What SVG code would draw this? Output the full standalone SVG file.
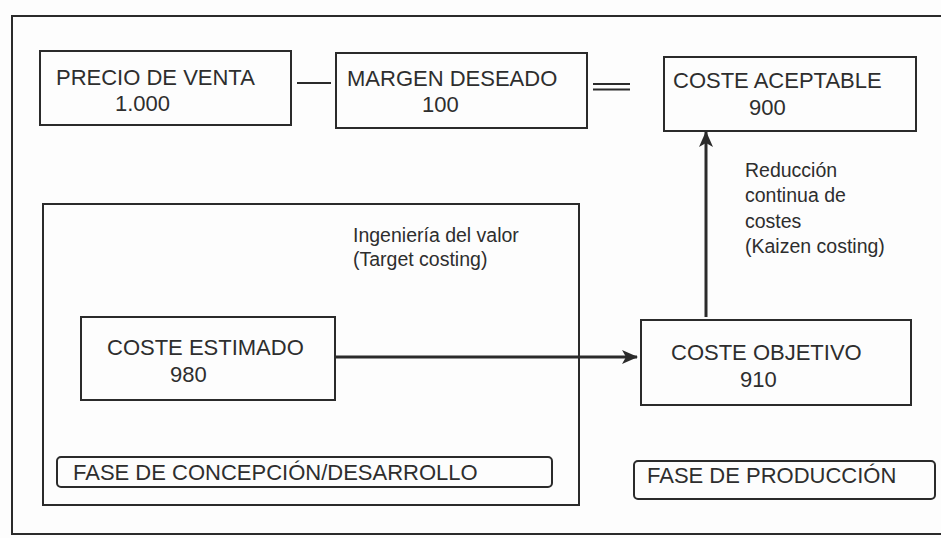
<svg xmlns="http://www.w3.org/2000/svg" width="941" height="538" viewBox="0 0 941 538">
<style>
.box{fill:none;stroke:#2b2b2b;stroke-width:2}
.lbl{font-family:"Liberation Sans",Arial,sans-serif;font-size:22px;fill:#2e2e2e}
.sm{font-family:"Liberation Sans",Arial,sans-serif;font-size:19.5px;fill:#2e2e2e}
.conn{stroke:#2b2b2b;stroke-width:3;fill:none}
.thin{stroke:#2b2b2b;stroke-width:2;fill:none}
</style>
<defs>
<marker id="ah" viewBox="0 0 16 14" refX="15" refY="7" markerWidth="16" markerHeight="14" markerUnits="userSpaceOnUse" orient="auto">
<path d="M0,0 L16,7 L0,14 L4,7 Z" fill="#2b2b2b"/>
</marker>
</defs>
<rect width="941" height="538" fill="#fdfdfd"/>
<g id="frame">
<rect class="box" x="12" y="16" width="940" height="518"/>
</g>
<g id="fase-concepcion-container">
<rect class="box" x="43" y="204" width="536" height="301"/>
<text class="sm" x="353" y="242">Ingeniería del valor</text>
<text class="sm" x="353" y="266">(Target costing)</text>
</g>
<g id="precio-venta">
<rect class="box" x="40" y="51" width="251" height="74"/>
<text class="lbl" x="56" y="85">PRECIO DE VENTA</text>
<text class="lbl" x="115" y="111">1.000</text>
</g>
<g id="margen-deseado">
<rect class="box" x="336" y="53" width="251" height="75"/>
<text class="lbl" x="347" y="86">MARGEN DESEADO</text>
<text class="lbl" x="422" y="112">100</text>
</g>
<g id="coste-aceptable">
<rect class="box" x="664" y="57" width="252" height="74"/>
<text class="lbl" x="673" y="88">COSTE ACEPTABLE</text>
<text class="lbl" x="749" y="115">900</text>
</g>
<g id="coste-estimado">
<rect class="box" x="81" y="317" width="254" height="83"/>
<text class="lbl" x="107" y="355">COSTE ESTIMADO</text>
<text class="lbl" x="170" y="382">980</text>
</g>
<g id="coste-objetivo">
<rect class="box" x="641" y="320" width="270" height="85"/>
<text class="lbl" x="671" y="360">COSTE OBJETIVO</text>
<text class="lbl" x="740" y="387">910</text>
</g>
<g id="fase-concepcion-label">
<rect class="box" x="57" y="457" width="495" height="30" rx="4"/>
<text class="lbl" x="73" y="480">FASE DE CONCEPCIÓN/DESARROLLO</text>
</g>
<g id="fase-produccion">
<rect class="box" x="634" y="461" width="301" height="38" rx="4"/>
<text class="lbl" x="647" y="483">FASE DE PRODUCCIÓN</text>
</g>
<g id="connectors">
<line class="thin" x1="297" y1="83" x2="331" y2="83"/>
<line class="thin" x1="593" y1="84" x2="630" y2="84"/>
<line class="thin" x1="593" y1="89.5" x2="630" y2="89.5"/>
<line class="conn" x1="335" y1="357" x2="637" y2="357" marker-end="url(#ah)"/>
<line class="conn" x1="706" y1="317" x2="706" y2="132" marker-end="url(#ah)"/>
<text class="sm" x="745" y="177">Reducción</text>
<text class="sm" x="745" y="202">continua de</text>
<text class="sm" x="745" y="228">costes</text>
<text class="sm" x="745" y="253">(Kaizen costing)</text>
</g>
</svg>
